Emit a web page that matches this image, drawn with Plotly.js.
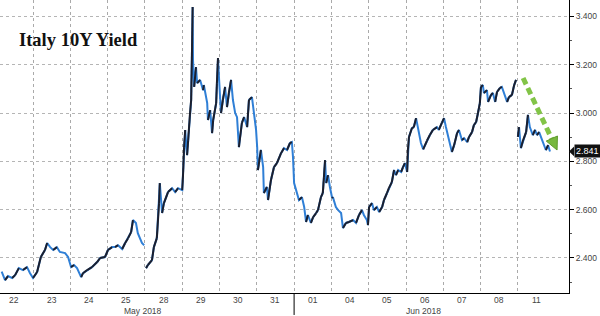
<!DOCTYPE html>
<html><head><meta charset="utf-8">
<script src="https://cdn.plot.ly/plotly-3.0.1.min.js"></script>
<style>html,body{margin:0;padding:0;background:#fff}#chart{width:600px;height:316px}</style>
</head><body><div id="chart"></div>
<script>
// trading-day labels (one slot per day)
const dayLabels = ["22","23","24","25","28","29","30","31","01","04","05","06","07","08","11"];
const monthLabels = ["May 2018","Jun 2018"];
// time in trading-day units (0 = start of 22 May), null = session gap
const t = [0.16,0.25,0.33,0.44,0.52,0.62,0.73,0.84,0.92,1.00,1.11,1.21,1.32,1.38,1.46,1.54,1.64,1.72,1.86,1.94,
2.02,2.10,2.18,2.29,2.34,2.45,2.58,2.72,2.80,2.93,3.01,3.12,3.20,3.28,3.39,3.47,3.55,3.63,3.68,3.76,3.81,3.92,3.98,null,
4.03,4.08,4.19,4.24,4.32,4.38,4.40,4.46,4.51,4.62,4.73,4.81,4.89,5.00,5.02,5.05,5.08,5.13,5.16,5.21,5.24,5.26,5.28,5.29,5.32,5.37,5.40,5.48,5.56,5.58,5.67,5.69,5.75,5.80,5.83,5.91,5.93,5.96,5.99,
6.04,6.09,6.15,6.20,6.25,6.31,6.36,6.42,6.47,6.52,6.60,6.66,6.74,6.79,6.87,6.90,6.98,7.01,7.03,7.11,7.17,7.19,7.27,7.30,7.38,7.46,7.54,7.65,7.73,7.81,7.89,7.94,7.97,
8.00,8.08,8.13,8.21,8.27,8.32,8.37,8.45,8.51,8.59,8.64,8.72,8.77,8.80,8.83,8.86,8.91,8.96,9.02,9.04,9.12,9.18,9.26,9.31,9.39,9.47,9.58,9.66,9.74,9.82,9.87,9.95,9.98,
10.01,10.09,10.14,10.22,10.28,10.36,10.41,10.49,10.54,10.62,10.68,10.73,10.79,10.87,10.92,10.97,11.03,11.05,11.08,11.16,11.21,11.27,11.32,11.40,11.46,11.56,11.64,11.72,11.83,11.88,11.96,
12.02,12.07,12.13,12.23,12.29,12.37,12.42,12.50,12.56,12.64,12.69,12.77,12.82,12.88,12.93,12.98,13.01,13.06,13.09,13.17,13.20,13.28,13.33,13.39,13.44,13.52,13.57,13.63,13.71,13.76,13.84,13.90,13.95,null,
14.00,14.03,14.08,14.14,14.22,14.27,14.32,14.40,14.46,14.51,14.57,14.65,14.70,14.75,14.81,14.86];
const yld = [2.343,2.308,2.325,2.317,2.329,2.358,2.350,2.362,2.337,2.317,2.342,2.404,2.433,2.462,2.445,2.433,2.445,2.425,2.420,2.404,
2.362,2.371,2.358,2.321,2.337,2.350,2.362,2.383,2.400,2.404,2.433,2.445,2.445,2.453,2.437,2.462,2.482,2.507,2.557,2.545,2.503,2.462,2.453,null,
2.358,2.371,2.391,2.445,2.482,2.627,2.710,2.586,2.627,2.673,2.689,2.673,2.689,2.681,2.735,2.859,2.930,2.826,2.888,3.000,3.054,3.232,3.439,3.219,3.108,3.190,3.124,3.137,3.095,3.116,3.041,2.971,3.012,2.917,2.971,3.041,3.124,3.228,3.137,
3.000,3.054,3.108,3.025,3.083,3.137,3.054,3.000,2.983,2.859,2.959,2.983,2.942,3.054,3.066,3.025,2.930,2.859,2.764,2.847,2.776,2.669,2.694,2.640,2.723,2.776,2.793,2.834,2.855,2.847,2.876,2.880,2.818,
2.710,2.660,2.640,2.652,2.611,2.549,2.578,2.545,2.569,2.586,2.598,2.652,2.669,2.735,2.805,2.710,2.743,2.694,2.648,2.652,2.611,2.598,2.586,2.524,2.545,2.549,2.557,2.545,2.578,2.598,2.578,2.557,2.536,
2.611,2.627,2.598,2.611,2.590,2.611,2.640,2.669,2.689,2.714,2.764,2.743,2.764,2.756,2.776,2.793,2.756,2.847,2.901,2.938,2.942,2.979,2.938,2.876,2.850,2.885,2.909,2.930,2.942,2.930,2.959,
2.979,2.942,2.901,2.839,2.867,2.917,2.930,2.888,2.896,2.880,2.901,2.921,2.950,2.963,3.000,3.041,3.108,3.116,3.083,3.095,3.046,3.075,3.083,3.046,3.087,3.104,3.108,3.083,3.046,3.066,3.075,3.116,3.137,null,
2.901,2.942,2.855,2.888,2.921,2.992,2.942,2.909,2.930,2.909,2.921,2.888,2.867,2.847,2.867,2.841];
const lastValue = 2.841;
const yTicks = [2.4,2.6,2.8,3.0,3.2,3.4];
const yMinor = [2.3,2.5,2.7,2.9,3.1,3.3];

// rising segments drawn dark, falling segments blue
const upX = [], upY = [];
for (let i = 0; i < t.length - 1; i++) {
  if (yld[i] !== null && yld[i+1] !== null && yld[i+1] > yld[i]) {
    upX.push(t[i], t[i+1], null); upY.push(yld[i], yld[i+1], null);
  }
}
const dayCenters = dayLabels.map((d,i)=>i+0.5);
const dayBounds = dayLabels.slice(1).map((d,i)=>i+1);

const traces = [
  {x:t, y:yld, type:'scatter', mode:'lines', line:{color:'#2f7fd6', width:2}, connectgaps:false, hoverinfo:'skip'},
  {x:upX, y:upY, type:'scatter', mode:'lines', line:{color:'#1b1f2e', width:2}, connectgaps:false, hoverinfo:'skip'}
];
const tickFont = {family:'Liberation Sans, Arial, sans-serif', size:8.5, color:'#444'};
const dayAnns = dayLabels.map((d,i)=>({text:d, xref:'x', yref:'paper', x:dayCenters[i], y:-0.005, yanchor:'top',
  showarrow:false, font:tickFont, borderpad:0}));
const layout = {
  width:600, height:316, margin:{l:0, r:31, t:0, b:23},
  paper_bgcolor:'#fff', plot_bgcolor:'#fff', showlegend:false,
  xaxis:{range:[0.115,15.37], tickmode:'array', tickvals:dayCenters, ticktext:dayLabels, ticks:'', showgrid:false,
    showticklabels:false, zeroline:false, showline:true, linecolor:'#000', linewidth:1,
    minor:{tickvals:dayBounds, showgrid:true, gridcolor:'#aaa', griddash:'dot', gridwidth:1, ticks:''}},
  yaxis:{range:[2.255,3.468], side:'right', tickmode:'array', tickvals:yTicks, ticktext:yTicks.map(v=>v.toFixed(3)),
    ticks:'outside', ticklen:4, tickcolor:'#000', showline:true, linecolor:'#000', linewidth:1, zeroline:false,
    showgrid:true, gridcolor:'#b5b5b5', griddash:'dot', tickfont:tickFont,
    minor:{tickvals:yMinor, ticks:'outside', ticklen:2, tickcolor:'#555', showgrid:false}},
  shapes:[
    {type:'line', xref:'x', yref:'paper', x0:8, x1:8, y0:0, y1:-0.075, line:{color:'#000', width:1}},
    {type:'line', xref:'x', yref:'y', x0:14.14, y0:3.145, x1:14.91, y1:2.892, line:{color:'#82c447', width:5, dash:'7px,4px'}},
    {type:'path', xref:'x', yref:'y', path:'M 15.05 2.847 L 15.06 2.905 L 14.76 2.884 Z', fillcolor:'#78b83e', line:{color:'#5e9a2c', width:1}},
    {type:'path', xref:'paper', yref:'y', path:'M 1.0 '+lastValue+' L 1.009 '+(lastValue+0.02)+' L 1.009 '+(lastValue-0.02)+' Z', fillcolor:'#111', line:{width:0}}
  ],
  annotations:dayAnns.concat([
    {text:'Italy 10Y Yield', xref:'paper', yref:'paper', x:0.03, y:0.864, xanchor:'left', yanchor:'middle', showarrow:false,
     font:{family:'Liberation Serif, Times New Roman, serif', size:18.5, color:'#111', weight:'bold'}},
    {text:monthLabels[0], xref:'x', yref:'paper', x:3.95, y:-0.04, yanchor:'top', showarrow:false, font:tickFont, borderpad:0},
    {text:monthLabels[1], xref:'x', yref:'paper', x:11.46, y:-0.04, yanchor:'top', showarrow:false, font:tickFont, borderpad:0},
    {text:lastValue.toFixed(3), xref:'paper', yref:'y', x:1.008, y:lastValue, xanchor:'left', yanchor:'middle', showarrow:false,
     bgcolor:'#111', borderpad:1, font:{family:'Liberation Sans, Arial, sans-serif', size:9, color:'#fff'}}
  ])
};
Plotly.newPlot('chart', traces, layout, {staticPlot:true, displayModeBar:false});
</script></body></html>
